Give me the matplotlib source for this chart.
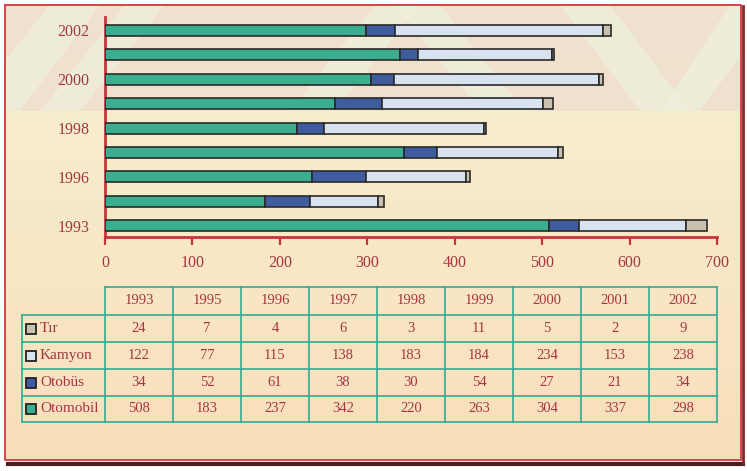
import numpy as np
import matplotlib
matplotlib.use("Agg")
import matplotlib.pyplot as plt
from matplotlib.patches import Rectangle, Polygon

# ---- data -------------------------------------------------------------
years = ["1993", "1995", "1996", "1997", "1998", "1999", "2000", "2001", "2002"]
otomobil = [508, 183, 237, 342, 220, 263, 304, 337, 298]
otobus = [34, 52, 61, 38, 30, 54, 27, 21, 34]
kamyon = [122, 77, 115, 138, 183, 184, 234, 153, 238]
tir = [24, 7, 4, 6, 3, 11, 5, 2, 9]
series_names = ["Otomobil", "Otobüs", "Kamyon", "Tır"]
x_ticks = [0, 100, 200, 300, 400, 500, 600, 700]
y_label_years = ["1993", "1996", "1998", "2000", "2002"]

# ---- styling ----------------------------------------------------------
W, H = 747, 471
TXT = "#a63642"
AXC = "#c8343c"
GRID = "#34aa94"
EDGE = "#2a2a2a"
colors = {"Otomobil": "#3aae8e", "Otobüs": "#3f5c9e",
          "Kamyon": "#d9e3ef", "Tır": "#c8c3b0"}
FONT = "Liberation Serif"
plt.rcParams["font.family"] = [FONT, "DejaVu Serif"]

fig = plt.figure(figsize=(W / 100, H / 100), dpi=100)
fig.patch.set_facecolor("white")

# background layer in pixel coordinates
bg = fig.add_axes([0, 0, 1, 1], zorder=0)
bg.set_xlim(0, W)
bg.set_ylim(H, 0)
bg.axis("off")

x0, x1, y0, y1 = 5, 741, 5, 460
ny = 200
t = np.linspace(0, 1, ny)[:, None]
top = np.array([247, 243, 212]) / 255
bot = np.array([249, 222, 186]) / 255
grad = (top * (1 - t) + bot * t)[:, None, :].repeat(2, axis=1).reshape(ny, 2, 3)
bg.imshow(grad, extent=(x0, x1, y1, y0), aspect="auto", zorder=0)

# pale chevron band across the top
band = Rectangle((x0, y0), x1 - x0, 106, facecolor="#eedccd", edgecolor="none",
                 alpha=0.75, zorder=1)
bg.add_patch(band)
stripes = [
    [(40, 111), (80, 111), (165, 5), (125, 5)],
    [(290, 111), (335, 111), (420, 5), (375, 5)],
    [(395, 5), (440, 5), (525, 111), (480, 111)],
    [(560, 5), (610, 5), (690, 111), (640, 111)],
    [(660, 111), (700, 111), (741, 55), (741, 5), (730, 5)],
    [(5, 60), (5, 111), (20, 111), (100, 5), (50, 5)],
]
for pts in stripes:
    p = Polygon(pts, closed=True, facecolor="#eef0dc", edgecolor="none",
                alpha=0.7, zorder=1.5)
    bg.add_patch(p)
    p.set_clip_path(band)

# frame lines
bg.plot([x0, x1, x1, x0, x0], [y0, y0, y1, y1, y0], color="#d4444c", lw=1.4, zorder=5)
bg.plot([8, 743], [463.5, 463.5], color="#4a1e1e", lw=3, zorder=5)
bg.plot([742.5, 742.5], [6, 463], color="#8a2630", lw=2, zorder=5)

# ---- stacked bar chart -----------------------------------------------
ax = fig.add_axes([105 / W, (H - 237) / H, (717 - 105) / W, (237 - 17) / H], zorder=2)
ax.patch.set_alpha(0)
ypos = np.arange(len(years))
left = np.zeros(len(years))
for name, vals in zip(series_names, [otomobil, otobus, kamyon, tir]):
    ax.barh(ypos, vals, left=left, height=0.45, color=colors[name],
            edgecolor=EDGE, linewidth=1.2, zorder=3)
    left += np.array(vals)

ax.set_xlim(0, 700)
ax.set_ylim(-0.46, 8.55)
ax.set_xticks(x_ticks)
ax.set_xticklabels([str(v) for v in x_ticks], color=TXT, fontsize=11.5)
ax.set_yticks([years.index(y) for y in y_label_years])
ax.set_yticklabels(y_label_years, color=TXT, fontsize=11.5)
ax.tick_params(axis="x", direction="out", length=6, width=1.6, color=AXC, pad=7)
ax.tick_params(axis="y", length=0, pad=11)
for s in ["top", "right"]:
    ax.spines[s].set_visible(False)
for s in ["left", "bottom"]:
    ax.spines[s].set_color(AXC)
    ax.spines[s].set_linewidth(2)

# ---- data table ------------------------------------------------------
tx0, tx1 = 105, 717
lx0 = 22
rows_y = [287, 315, 342, 369, 396, 422]
cw = (tx1 - tx0) / len(years)
lw_t = 1.2
bg.plot([tx0, tx1], [rows_y[0], rows_y[0]], color=GRID, lw=lw_t, zorder=6)
for yy in rows_y[1:]:
    bg.plot([lx0, tx1], [yy, yy], color=GRID, lw=lw_t, zorder=6)
for i in range(len(years) + 1):
    xx = tx0 + i * cw
    bg.plot([xx, xx], [rows_y[0], rows_y[-1]], color=GRID, lw=lw_t, zorder=6)
bg.plot([lx0, lx0], [rows_y[1], rows_y[-1]], color=GRID, lw=lw_t, zorder=6)

for i, yr in enumerate(years):
    bg.text(tx0 + (i + 0.5) * cw, (rows_y[0] + rows_y[1]) / 2, yr,
            ha="center", va="center", color=TXT, fontsize=10.5, zorder=7)

table_rows = [("Tır", tir), ("Kamyon", kamyon), ("Otobüs", otobus), ("Otomobil", otomobil)]
for r, (name, vals) in enumerate(table_rows):
    yc = (rows_y[r + 1] + rows_y[r + 2]) / 2
    bg.add_patch(Rectangle((26, yc - 5), 10, 10, facecolor=colors[name],
                           edgecolor="#222222", lw=1.3, zorder=7))
    bg.text(40, yc, name, ha="left", va="center", color=TXT, fontsize=11, zorder=7)
    for i, v in enumerate(vals):
        bg.text(tx0 + (i + 0.5) * cw, yc, str(v), ha="center", va="center",
                color=TXT, fontsize=10.5, zorder=7)

fig.savefig("out.png", dpi=100, facecolor="white")
